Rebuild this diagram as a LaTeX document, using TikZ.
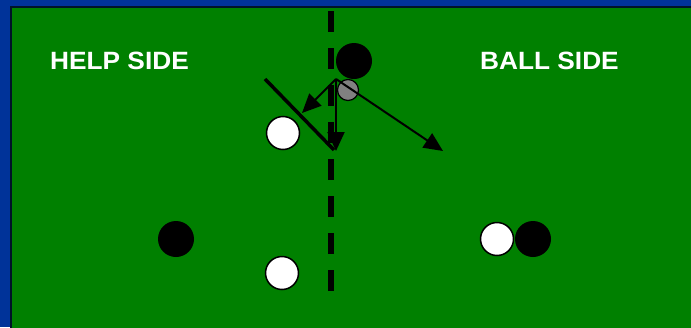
\documentclass[tikz,border=0pt]{standalone}
\usepackage{fontspec}
\setmainfont{Liberation Sans}
\usetikzlibrary{arrows.meta}
\definecolor{slideBlue}{RGB}{0,51,153}
\definecolor{courtGreen}{RGB}{0,128,0}
\definecolor{courtEdge}{RGB}{0,20,40}
\definecolor{ballGrey}{RGB}{128,128,128}
\begin{document}
\begin{tikzpicture}[
  x=1pt,y=-1pt,
  >={Triangle[length=19pt,width=17pt]},
  label/.style={font=\bfseries\fontsize{25}{25}\selectfont,text=white,inner sep=0pt,xscale=1.05},
  offense/.style={circle,fill=black,inner sep=0pt,minimum size=36pt},
  defense/.style={circle,draw=black,line width=1.5pt,fill=white,inner sep=0pt,minimum size=33pt},
  ball/.style={circle,draw=black,line width=1.2pt,fill=ballGrey,inner sep=0pt,minimum size=21pt},
  arrow/.style={->,line width=2pt,draw=black},
  deny/.style={line width=3.5pt,draw=black},
  midline/.style={line width=6pt,draw=black,dash pattern=on 21pt off 16pt,dash phase=0pt}
]

\fill[slideBlue] (0,0) rectangle (691,327);
\useasboundingbox (0,0) rectangle (691,327);
\fill[courtGreen] (12,8) rectangle (693,329);
\draw[courtEdge,line width=2pt] (11,329) -- (11,7) -- (693,7);

\node[label] (help) at (119.5,61) {HELP SIDE};
\node[label] (strong) at (549.5,61) {BALL SIDE};

\coordinate (top) at (331,11);
\coordinate (bottom) at (331,295);
\draw[midline] (top) -- (bottom);

\node[offense] (o1) at (354,61) {};
\node[ball] (pass) at (348,90) {};
\node[defense] (x1) at (283,133) {};
\node[offense] (o2) at (176,239) {};
\node[defense] (x2) at (282,273) {};
\node[defense] (x3) at (497,239) {};
\node[offense] (o3) at (533,239) {};

\coordinate (start) at (336,79);
\coordinate (cutleft) at (302,113);
\coordinate (cutdown) at (336,151);
\coordinate (cutwide) at (443,151);
\coordinate (denytop) at (265,79);
\coordinate (denyend) at (334,150);

\draw[deny] (denytop) -- (denyend);
\draw[arrow] (start) -- (cutleft);
\draw[arrow] (start) -- (cutdown);
\draw[arrow] (start) -- (cutwide);

\end{tikzpicture}
\end{document}
